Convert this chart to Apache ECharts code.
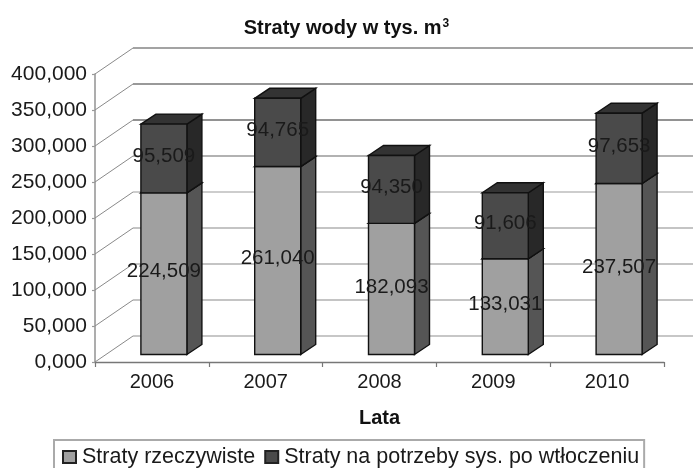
<!DOCTYPE html>
<html>
<head>
<meta charset="utf-8">
<style>
html, body { margin: 0; padding: 0; background: #fff; overflow: hidden; }
#chart { width: 693px; height: 468px; }
</style>
<script src="https://cdn.jsdelivr.net/npm/echarts@6/dist/echarts.min.js"></script>
</head>
<body>
<div id="chart"></div>
<script>
const lata = ['2006', '2007', '2008', '2009', '2010'];
const stratyRzeczywiste = [224.509, 261.040, 182.093, 133.031, 237.507];
const stratyNaPotrzeby = [95.509, 94.765, 94.350, 91.606, 97.653];
const yTicks = [0, 50, 100, 150, 200, 250, 300, 350, 400];
const nazwaDolna = 'Straty rzeczywiste';
const nazwaGorna = 'Straty na potrzeby sys. po wtłoczeniu';

// przesuniecia "3D" w pikselach
const wallDx = 38, wallDy = -26;
const barDx = 12, barDy = -7.5, barW = 46, sideDx = 15, sideDy = -10;
const wallColors = ['#b4b4b4', '#b0b0b0', '#b0b0b0', '#b0b0b0', '#bcbcbc', '#999', '#6e6e6e', '#777', '#858585'];
const fontName = '"Liberation Sans", Arial, sans-serif';

function fmt(v) {
    return v.toFixed(3).replace('.', ',');
}

function renderWall(params, api) {
    const v = api.value(1);
    const cs = params.coordSys;
    const p = api.coord([0, v]);
    return {
        type: 'group',
        children: [
            {
                type: 'line',
                shape: { x1: cs.x, y1: p[1], x2: cs.x + wallDx, y2: p[1] + wallDy },
                style: { stroke: '#8a8a8a', lineWidth: 1 }
            },
            {
                type: 'line',
                shape: { x1: cs.x + wallDx, y1: p[1] + wallDy, x2: cs.x + cs.width + wallDx, y2: p[1] + wallDy },
                style: { stroke: wallColors[params.dataIndex], lineWidth: 1.5 }
            }
        ]
    };
}

function makeBar(front, side, top) {
    return function (params, api) {
        const i = api.value(0);
        const from = api.value(1);
        const to = api.value(2);
        const x = api.coord([i, 0])[0] + barDx - barW / 2;
        const y0 = api.coord([i, from])[1] + barDy;
        const y1 = api.coord([i, to])[1] + barDy;
        const line = { stroke: '#111', lineWidth: 1.4, lineJoin: 'miter' };
        return {
            type: 'group',
            children: [
                {
                    type: 'polygon',
                    shape: { points: [[x + barW, y0], [x + barW + sideDx, y0 + sideDy], [x + barW + sideDx, y1 + sideDy], [x + barW, y1]] },
                    style: Object.assign({ fill: side }, line)
                },
                {
                    type: 'polygon',
                    shape: { points: [[x, y1], [x + barW, y1], [x + barW + sideDx, y1 + sideDy], [x + sideDx, y1 + sideDy]] },
                    style: Object.assign({ fill: top }, line)
                },
                {
                    type: 'rect',
                    shape: { x: x, y: y1, width: barW, height: y0 - y1 },
                    style: Object.assign({ fill: front }, line)
                },
                {
                    type: 'text',
                    z2: 50,
                    style: {
                        text: fmt(to - from),
                        x: x + barW / 2,
                        y: (y0 + y1) / 2 - 2,
                        align: 'center',
                        verticalAlign: 'middle',
                        fill: '#1a1a1a',
                        font: '20.5px ' + fontName
                    }
                }
            ]
        };
    };
}

const lowerData = lata.map((y, i) => [i, 0, stratyRzeczywiste[i]]);
const upperData = lata.map((y, i) => [i, stratyRzeczywiste[i], stratyRzeczywiste[i] + stratyNaPotrzeby[i]]);

const myChart = echarts.init(document.getElementById('chart'), null, { renderer: 'canvas' });
myChart.setOption({
    animation: false,
    backgroundColor: '#fff',
    title: {
        text: '{a|Straty wody w tys. m}{b|3}',
        left: 'center',
        top: 13,
        textStyle: {
            rich: {
                a: { fontFamily: fontName, fontWeight: 'bold', fontSize: 20, color: '#111', verticalAlign: 'bottom' },
                b: { fontFamily: fontName, fontSize: 12, color: '#111', verticalAlign: 'top', padding: [0, 0, 7, 1] }
            }
        }
    },
    legend: {
        left: 54,
        top: 440,
        orient: 'horizontal',
        padding: [6, 5, 6, 8],
        borderColor: '#aaa',
        borderWidth: 2,
        itemWidth: 13,
        itemHeight: 12,
        itemGap: 9,
        data: [
            { name: nazwaDolna, icon: 'rect' },
            { name: nazwaGorna, icon: 'rect' }
        ],
        textStyle: { fontFamily: fontName, fontSize: 21.5, color: '#1a1a1a', padding: [0, 0, 0, 1] }
    },
    grid: { left: 95, right: 29, top: 74, bottom: 106 },
    xAxis: {
        type: 'category',
        data: lata,
        name: 'Lata',
        nameLocation: 'middle',
        nameGap: 46,
        nameTextStyle: { fontFamily: fontName, fontWeight: 'bold', fontSize: 20, color: '#111' },
        axisLine: { lineStyle: { color: '#777', width: 1.4 } },
        axisTick: { show: true, length: 5, alignWithLabel: false, lineStyle: { color: '#777', width: 1.2 } },
        axisLabel: { fontFamily: fontName, fontSize: 20, color: '#1a1a1a', margin: 10 },
        splitLine: { show: false }
    },
    yAxis: {
        type: 'value',
        min: 0,
        max: 400,
        interval: 50,
        axisLine: { show: true, lineStyle: { color: '#999', width: 1.6 } },
        axisTick: { show: true, length: 3, lineStyle: { color: '#999', width: 1.2 } },
        axisLabel: { fontFamily: fontName, fontSize: 21, color: '#1a1a1a', margin: 8, formatter: fmt },
        splitLine: { show: false }
    },
    series: [
        {
            type: 'custom',
            name: 'siatka',
            renderItem: renderWall,
            data: yTicks.map(v => [0, v]),
            encode: { x: 0, y: 1 },
            silent: true,
            z: 1
        },
        {
            type: 'custom',
            name: nazwaDolna,
            renderItem: makeBar('#a0a0a0', '#555555', '#555555'),
            data: lowerData,
            encode: { x: 0, y: [1, 2] },
            itemStyle: { color: '#a0a0a0', borderColor: '#222', borderWidth: 1.4 },
            z: 2
        },
        {
            type: 'custom',
            name: nazwaGorna,
            renderItem: makeBar('#4a4a4a', '#282828', '#333333'),
            data: upperData,
            encode: { x: 0, y: [1, 2] },
            itemStyle: { color: '#4a4a4a', borderColor: '#222', borderWidth: 1.4 },
            z: 3
        }
    ]
});
</script>
</body>
</html>
